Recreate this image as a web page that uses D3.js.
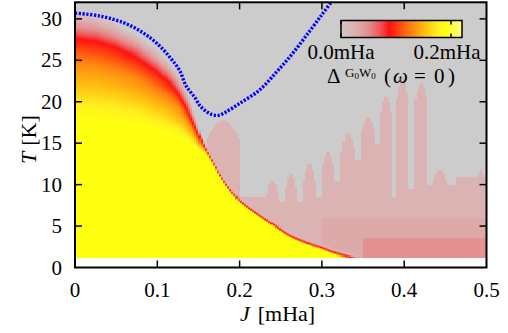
<!DOCTYPE html>
<html><head><meta charset="utf-8">
<script src="https://cdn.jsdelivr.net/npm/d3@7"></script>
<style>
html,body{margin:0;padding:0;background:#fff;}
svg{display:block;font-family:"Liberation Serif","DejaVu Serif",serif;}
</style>
</head><body>
<svg id="chart" width="508" height="333"></svg>
<script>
// ---------- data ----------
const xTicks = [0, 0.1, 0.2, 0.3, 0.4, 0.5];
const xTickLabels = ["0", "0.1", "0.2", "0.3", "0.4", "0.5"];
const yTicks = [0, 5, 10, 15, 20, 25, 30];
const yTickLabels = ["0", "5", "10", "15", "20", "25", "30"];

// phase boundary read along J [mHa]: temperature [K] of the colour contours
const knotJ   = [0, 0.025, 0.05, 0.075, 0.1, 0.115, 0.125, 0.135, 0.14, 0.145, 0.15, 0.155, 0.16, 0.17, 0.18, 0.19, 0.2, 0.21, 0.22, 0.23, 0.24, 0.25, 0.26, 0.27, 0.28, 0.29, 0.3, 0.31, 0.32, 0.33, 0.34, 0.35, 0.36];
const tGap    = [30.7, 30.3, 29.4, 28.0, 26.2, 24.6, 23.3, 21.5, 20.2, 18.7, 17.0, 15.6, 14.4, 12.6, 10.9, 9.5, 8.45, 7.65, 6.95, 6.25, 5.6, 4.95, 4.3, 3.85, 3.45, 3.05, 2.75, 2.35, 2.05, 1.75, 1.5, 1.3, 1.0];
const tRed    = [27.6, 27.3, 26.5, 25.3, 23.6, 22.2, 21.0, 19.3, 18.2, 17.2, 16.0, 15.0, 14.0, 12.2, 10.5, 9.1, 8.05, 7.25, 6.55, 5.85, 5.2, 4.55, 3.9, 3.45, 3.05, 2.65, 2.35, 1.95, 1.65, 1.35, 1.1, 0.9, 0.6];
const tOrange = [24.7, 24.4, 23.8, 22.8, 21.3, 20.3, 19.5, 18.1, 17.2, 16.3, 15.3, 14.6, 13.9, 12.1, 10.4, 9.0, 7.95, 7.15, 6.45, 5.75, 5.1, 4.45, 3.8, 3.35, 2.95, 2.55, 2.25, 1.85, 1.55, 1.25, 1.0, 0.8, 0.5];
const tYellow = [18.0, 17.9, 17.6, 17.2, 16.6, 16.1, 15.7, 15.2, 14.9, 14.6, 14.3, 13.9, 13.4, 11.9, 10.2, 8.8, 7.75, 6.95, 6.25, 5.55, 4.9, 4.25, 3.6, 3.15, 2.75, 2.35, 2.05, 1.65, 1.35, 1.05, 0.8, 0.6, 0.3];
const bulkGap = 0.19;      // mHa, deep in the gapped phase (saturated yellow)

// weak residual gap (pale pink streaks) above the boundary
const residEdges = [0.16, 0.2, 0.232, 0.248, 0.255, 0.27, 0.278, 0.292, 0.3, 0.315, 0.323, 0.34, 0.347, 0.366, 0.37, 0.385, 0.391, 0.405, 0.413, 0.428, 0.432, 0.455, 0.462, 0.487, 0.5];
const residTop   = [17.8, 8.5, 10.5, 8, 11.4, 8, 12.5, 8.5, 14, 10.5, 16.2, 13, 18.2, 15, 20.6, 8.5, 22.8, 9.4, 22.3, 10, 11.8, 10, 10.9, 11.8];
const residLevel = 0.025;
const lowBandJ = [0.35, 0.30], lowBandTop = [3.6, 6.0], lowBandLevel = [0.048, 0.032];
const dataTmin = 1.2;

// blue dotted curve
const blueJ = [0, 0.03, 0.06, 0.083, 0.1, 0.115, 0.127, 0.135, 0.145, 0.152, 0.16, 0.168, 0.176, 0.184, 0.2, 0.224, 0.245, 0.265, 0.285, 0.3, 0.312];
const blueT = [30.7, 30.35, 29.5, 28.3, 27.0, 25.4, 23.8, 21.9, 20.6, 19.5, 18.8, 18.4, 18.4, 18.8, 19.8, 21.4, 23.6, 25.9, 28.5, 30.5, 32.1];

// colour bar
const cbTicks = [0.0, 0.2];
const cbLabels = ["0.0mHa", "0.2mHa"];
const cbMax = 0.22;

// ---------- styles ----------
const cmapStops  = [0, 0.012, 0.025, 0.05, 0.07, 0.088, 0.12, 0.15, 0.175, 0.19, 0.22];
const cmapColors = ["#d2c8c8", "#d8bcbc", "#dbb3b3", "#e48e8e", "#ee5858", "#ff1212", "#ff7010", "#ffb810", "#fff020", "#ffff10", "#ffff90"];
const cmap = d3.scaleLinear().domain(cmapStops).range(cmapColors).interpolate(d3.interpolateRgb).clamp(true);

const svg = d3.select("#chart");
const x = d3.scaleLinear().domain([0, 0.5]).range([75, 486.5]);
const y = d3.scaleLinear().domain([0, 32]).range([267.5, 2.3]);
const FS = 21;

function interpK(arr, j) {
  if (j <= knotJ[0]) return arr[0];
  for (let i = 1; i < knotJ.length; i++) {
    if (j <= knotJ[i]) {
      const f = (j - knotJ[i - 1]) / (knotJ[i] - knotJ[i - 1]);
      return arr[i - 1] + f * (arr[i] - arr[i - 1]);
    }
  }
  return arr[arr.length - 1];
}
const lerp = (a, b, f) => a + (b - a) * f;
function gapValue(j, t) {
  const tc = interpK(tGap, j), tr = interpK(tRed, j), to = interpK(tOrange, j), ty = interpK(tYellow, j);
  if (t <= ty) return bulkGap;
  if (t <= to) return lerp(bulkGap, 0.13, (t - ty) / (to - ty));
  if (t <= tr) return lerp(0.13, 0.088, (t - to) / (tr - to));
  if (t <= tc) return lerp(0.088, 0.005, (t - tr) / (tc - tr));
  let v = 0;
  if (j >= residEdges[0]) {
    for (let i = 0; i < residTop.length; i++) {
      if (j >= residEdges[i] && j < residEdges[i + 1]) {
        const top = residTop[i];
        const nb = Math.max(i > 0 ? residTop[i - 1] : 0, i < residTop.length - 1 ? residTop[i + 1] : 0);
        const f = (j - residEdges[i]) / (residEdges[i + 1] - residEdges[i]);
        let eff = top;
        if (top > nb) eff = Math.max(nb, top - 2.5 * Math.pow(2 * Math.abs(f - 0.5), 2));
        if (t <= eff) v = residLevel;
        break;
      }
    }
  }
  for (let k = 0; k < lowBandJ.length; k++) {
    if (j >= lowBandJ[k] && t <= lowBandTop[k]) { v = Math.max(v, lowBandLevel[k]); break; }
  }
  return v;
}

// plot background (zero gap)
svg.append("rect").attr("x", x(0)).attr("y", y(32)).attr("width", x(0.5) - x(0)).attr("height", y(dataTmin) - y(32)).attr("fill", "#cccccc");

// heat map cells, merged into vertical runs of equal colour
const nJ = 200, dJ = 0.5 / nJ, dT = 0.125;
const nT = Math.ceil((32 - dataTmin) / dT);
const cells = [];
for (let a = 0; a < nJ; a++) {
  const j0 = a * dJ, j1 = (a + 1) * dJ, jc = (j0 + j1) / 2;
  let run = null;
  for (let b = 0; b < nT; b++) {
    const t0 = dataTmin + b * dT, t1 = Math.min(32, t0 + dT), tm = (t0 + t1) / 2;
    const v = gapValue(jc, tm);
    const col = v > 0 ? d3.color(cmap(v)).formatHex() : null;
    if (run && run.c === col) { run.t1 = t1; }
    else {
      if (run && run.c) cells.push(run);
      run = { j0, j1, t0, t1, c: col };
    }
  }
  if (run && run.c) cells.push(run);
}
svg.append("g").attr("shape-rendering", "crispEdges")
  .selectAll("rect").data(cells).join("rect")
  .attr("x", d => x(d.j0)).attr("y", d => y(d.t1))
  .attr("width", d => x(d.j1) - x(d.j0)).attr("height", d => y(d.t0) - y(d.t1))
  .attr("fill", d => d.c);

// blue dotted curve
svg.append("clipPath").attr("id", "clip").append("rect")
  .attr("x", x(0)).attr("y", y(32)).attr("width", x(0.5) - x(0)).attr("height", y(0) - y(32));
const bluePts = blueJ.map((j, i) => [j, blueT[i]]);
svg.append("path").attr("clip-path", "url(#clip)")
  .attr("d", d3.line().x(d => x(d[0])).y(d => y(d[1])).curve(d3.curveCatmullRom)(bluePts))
  .attr("fill", "none").attr("stroke", "#0000ff").attr("stroke-width", 3.4).attr("stroke-dasharray", "2.2,1.6");

// frame
svg.append("rect").attr("x", x(0)).attr("y", y(32)).attr("width", x(0.5) - x(0)).attr("height", y(0) - y(32))
  .attr("fill", "none").attr("stroke", "#000").attr("stroke-width", 2);

// ticks (inward, mirrored)
const TL = 7;
const tk = svg.append("g").attr("stroke", "#000").attr("stroke-width", 1.5);
xTicks.slice(1, -1).forEach(v => {
  tk.append("line").attr("x1", x(v)).attr("x2", x(v)).attr("y1", y(0)).attr("y2", y(0) - TL);
  tk.append("line").attr("x1", x(v)).attr("x2", x(v)).attr("y1", y(32)).attr("y2", y(32) + TL);
});
yTicks.slice(1).forEach(v => {
  tk.append("line").attr("x1", x(0)).attr("x2", x(0) + TL).attr("y1", y(v)).attr("y2", y(v));
  tk.append("line").attr("x1", x(0.5)).attr("x2", x(0.5) - TL).attr("y1", y(v)).attr("y2", y(v));
});

// tick labels
svg.append("g").selectAll("text").data(xTicks).join("text")
  .attr("x", d => x(d)).attr("y", 297).attr("text-anchor", "middle").attr("font-size", FS)
  .text((d, i) => xTickLabels[i]);
svg.append("g").selectAll("text").data(yTicks).join("text")
  .attr("x", 62).attr("y", d => y(d) + 7).attr("text-anchor", "end").attr("font-size", FS)
  .text((d, i) => yTickLabels[i]);

// axis titles
const xt = svg.append("text").attr("x", 240).attr("y", 321).attr("font-size", 22);
xt.append("tspan").attr("font-style", "italic").text("J");
xt.append("tspan").attr("dx", 8).text("[mHa]");
const yt = svg.append("text").attr("transform", "translate(36,164) rotate(-90)").attr("font-size", 22);
yt.append("tspan").attr("font-style", "italic").text("T");
yt.append("tspan").attr("dx", 6).text("[K]");

// colour bar
const cbx = d3.scaleLinear().domain([0, cbMax]).range([341, 462]);
const grad = svg.append("defs").append("linearGradient").attr("id", "cbgrad").attr("x1", 0).attr("x2", 1).attr("y1", 0).attr("y2", 0);
cmapStops.forEach((s, i) => grad.append("stop").attr("offset", s / cbMax).attr("stop-color", cmapColors[i]));
const cbY0 = 20.5, cbY1 = 37.5;
svg.append("rect").attr("x", cbx(0)).attr("y", cbY0).attr("width", cbx(cbMax) - cbx(0)).attr("height", cbY1 - cbY0)
  .attr("fill", "url(#cbgrad)").attr("stroke", "#000").attr("stroke-width", 1.5);
cbTicks.forEach(v => {
  svg.append("line").attr("x1", cbx(v)).attr("x2", cbx(v)).attr("y1", cbY0).attr("y2", cbY0 + 4).attr("stroke", "#000").attr("stroke-width", 1.5);
  svg.append("line").attr("x1", cbx(v)).attr("x2", cbx(v)).attr("y1", cbY1).attr("y2", cbY1 - 4).attr("stroke", "#000").attr("stroke-width", 1.5);
});
svg.append("g").selectAll("text").data(cbTicks).join("text")
  .attr("x", d => cbx(d)).attr("dx", (d, i) => i ? -4 : 0).attr("y", 59).attr("text-anchor", "middle").attr("font-size", FS)
  .text((d, i) => cbLabels[i]);

// colour bar title  Δ^{G0W0}(ω = 0)
const ttl = svg.append("text").attr("font-size", FS);
ttl.append("tspan").attr("x", 327).attr("y", 83).text("Δ");
ttl.append("tspan").attr("x", 345).attr("y", 76.5).attr("font-size", 13).text("G");
ttl.append("tspan").attr("y", 79).attr("font-size", 9).text("0");
ttl.append("tspan").attr("y", 76.5).attr("font-size", 13).text("W");
ttl.append("tspan").attr("y", 79).attr("font-size", 9).text("0");
ttl.append("tspan").attr("x", 384).attr("y", 83).text("(");
ttl.append("tspan").attr("x", 393).attr("font-style", "italic").text("ω");
ttl.append("tspan").attr("x", 414).text("=");
ttl.append("tspan").attr("x", 434).text("0");
ttl.append("tspan").attr("x", 448).text(")");
</script>
</body></html>
